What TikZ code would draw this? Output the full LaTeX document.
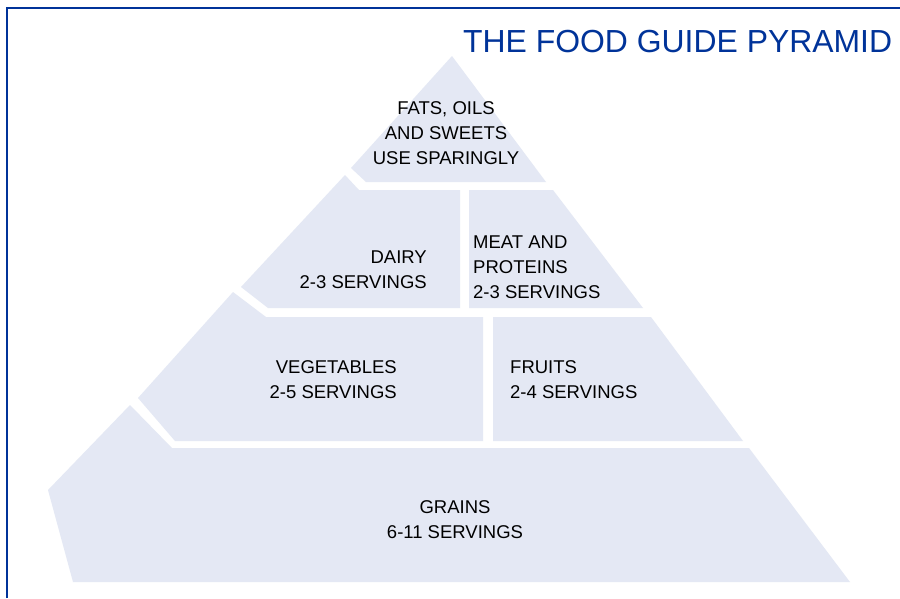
\documentclass[tikz,border=0pt]{standalone}
\usepackage{fontspec}
\setmainfont{Liberation Sans}
\definecolor{tierfill}{RGB}{228,232,244}
\definecolor{guideblue}{RGB}{0,51,153}
\begin{document}
\begin{tikzpicture}[x=1pt,y=-1pt,
  tier/.style={fill=tierfill,draw=none},
  label/.style={inner sep=0pt,font=\fontsize{18.5}{25}\selectfont,text=black},
  heading/.style={inner sep=0pt,font=\fontsize{31.9}{36}\selectfont,text=guideblue}]
\useasboundingbox (0,0) rectangle (900,598);
\fill[white] (0,0) rectangle (900,598);
% frame
\draw[guideblue,line width=2.2pt] (7,598) -- (7,7.7) -- (900,7.7);
% pyramid tiers
\fill[tier] (452,56) -- (546,182) -- (366,182) -- (351,168) -- cycle;
\fill[tier] (345,175) -- (359,190) -- (460,190) -- (460,308) -- (268,308) -- (241,287) -- cycle;
\fill[tier] (469,190) -- (553,190) -- (643,308) -- (469,308) -- cycle;
\fill[tier] (233,292) -- (266,317) -- (483,317) -- (483,441) -- (175,441) -- (138,398) -- cycle;
\fill[tier] (493,317) -- (651,317) -- (743,441) -- (493,441) -- cycle;
\fill[tier] (130,405) -- (172,448) -- (749,448) -- (850,582) -- (73,582) -- (48,490) -- cycle;
% labels
\node[heading,anchor=base west] (title) at (463,52) {THE FOOD GUIDE PYRAMID};
\node[label,align=center] (fats) at (446,133) {FATS, OILS\\AND SWEETS\\USE SPARINGLY};
\node[label,align=right,anchor=east] (dairy) at (427,269.5) {DAIRY\\2-3 SERVINGS};
\node[label,align=left,anchor=west] (meat) at (473,267.5) {MEAT AND\\PROTEINS\\2-3 SERVINGS};
\node[label,align=right,anchor=east] (veg) at (397,380) {VEGETABLES\\2-5 SERVINGS};
\node[label,align=left,anchor=west] (fruits) at (510,380) {FRUITS\\2-4 SERVINGS};
\node[label,align=center] (grains) at (455,520) {GRAINS\\6-11 SERVINGS};
\end{tikzpicture}
\end{document}
